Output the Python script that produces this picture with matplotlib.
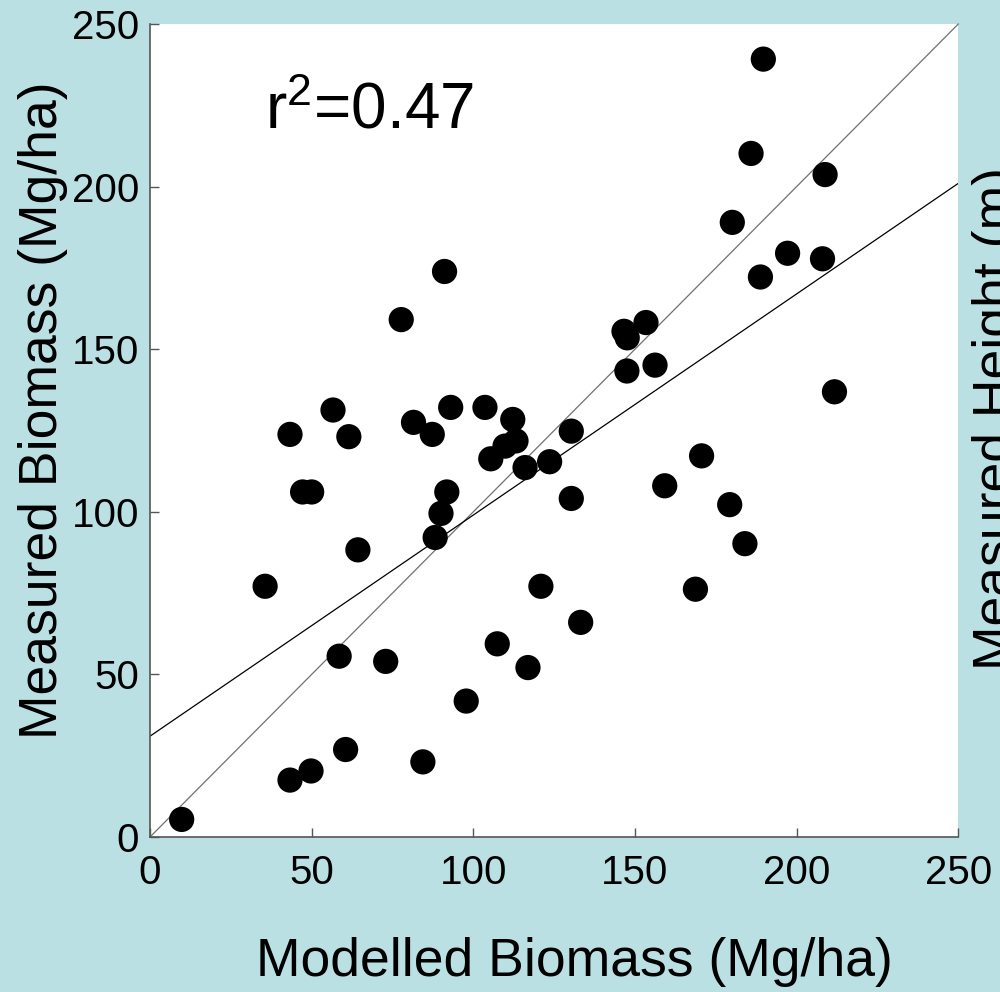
import matplotlib
matplotlib.use("Agg")
import matplotlib.pyplot as plt
import numpy as np

plt.rcParams['font.family'] = ['Liberation Sans', 'DejaVu Sans']
plt.rcParams['mathtext.fontset'] = 'custom'
plt.rcParams['mathtext.rm'] = 'Liberation Sans'
plt.rcParams['mathtext.it'] = 'Liberation Sans'

# Data
modelled = [91.1, 77.7, 43.3, 56.6, 61.5, 81.5, 87.3, 93.0, 103.6, 112.2,
            113.2, 109.8, 105.4, 116.0, 123.6, 130.3, 47.2, 50.0, 91.8, 90.0,
            88.2, 64.3, 35.6, 120.9, 58.5, 72.9, 107.4, 116.9, 97.8, 60.5,
            49.8, 43.3, 84.4, 9.8, 189.7, 185.9, 208.8, 180.1, 197.2, 208.0,
            188.8, 153.4, 146.6, 147.6, 147.5, 156.2, 211.7, 130.3, 170.6, 159.2,
            179.3, 184.0, 168.7, 133.2]
measured = [173.9, 159.1, 123.8, 131.3, 123.1, 127.5, 123.8, 132.1, 132.1, 128.4,
            121.8, 120.2, 116.3, 113.6, 115.4, 104.1, 106.1, 106.1, 106.1, 99.5,
            92.1, 88.3, 77.1, 77.1, 55.6, 54.0, 59.4, 52.1, 41.8, 26.9,
            20.3, 17.5, 23.1, 5.4, 239.2, 210.2, 203.7, 189.0, 179.5, 177.8,
            172.2, 158.2, 155.5, 153.5, 143.3, 145.1, 136.9, 124.8, 117.2, 108.0,
            102.2, 90.2, 76.2, 66.0]

line_x = [0, 250]
one_to_one = [0, 250]
reg_intercept = 31.0
reg_slope = 0.68
reg_line = [reg_intercept + reg_slope * v for v in line_x]

ticks = [0, 50, 100, 150, 200, 250]
r2_label = "r$^{2}$=0.47"
bg = '#BBE0E3'

fig = plt.figure(figsize=(10, 9.92), dpi=100)
fig.patch.set_facecolor(bg)
ax = fig.add_axes([0.150, 1 - 837/992, 0.8083, (837 - 24)/992])
ax.set_facecolor('white')

ax.plot(line_x, one_to_one, color='#707070', lw=0.9, zorder=2, clip_on=False)
ax.plot(line_x, reg_line, color='black', lw=0.9, zorder=2)
ax.scatter(modelled, measured, s=330, color='black', edgecolors='none', zorder=3)

ax.set_xlim(0, 250)
ax.set_ylim(0, 250)
ax.set_xticks(ticks)
ax.set_yticks(ticks)
ax.set_xticklabels([str(t) for t in ticks])
ax.set_yticklabels([str(t) for t in ticks])
ax.tick_params(direction='in', length=6.5, width=1, color='#555555',
               labelsize=29, labelcolor='black')
ax.tick_params(axis='x', pad=12)
ax.tick_params(axis='y', pad=8)
for side in ['top', 'right']:
    ax.spines[side].set_visible(False)
for side in ['left', 'bottom']:
    ax.spines[side].set_color('#555555')
    ax.spines[side].set_linewidth(1.2)

ax.text(35.6, 218, r2_label, fontsize=46, ha='left', va='baseline', color='black')

fig.text(0.574, 0.030, "Modelled Biomass (Mg/ha)", fontsize=38.5, ha='center', va='center')
fig.text(0.043, 1 - 410/992, "Measured Biomass (Mg/ha)", fontsize=38.5, ha='center',
         va='center', rotation=90)
fig.text(0.997, 1 - 418/992, "Measured Height (m)", fontsize=38.5, ha='center',
         va='center', rotation=90)

fig.savefig("out.png", dpi=100, facecolor=bg)
